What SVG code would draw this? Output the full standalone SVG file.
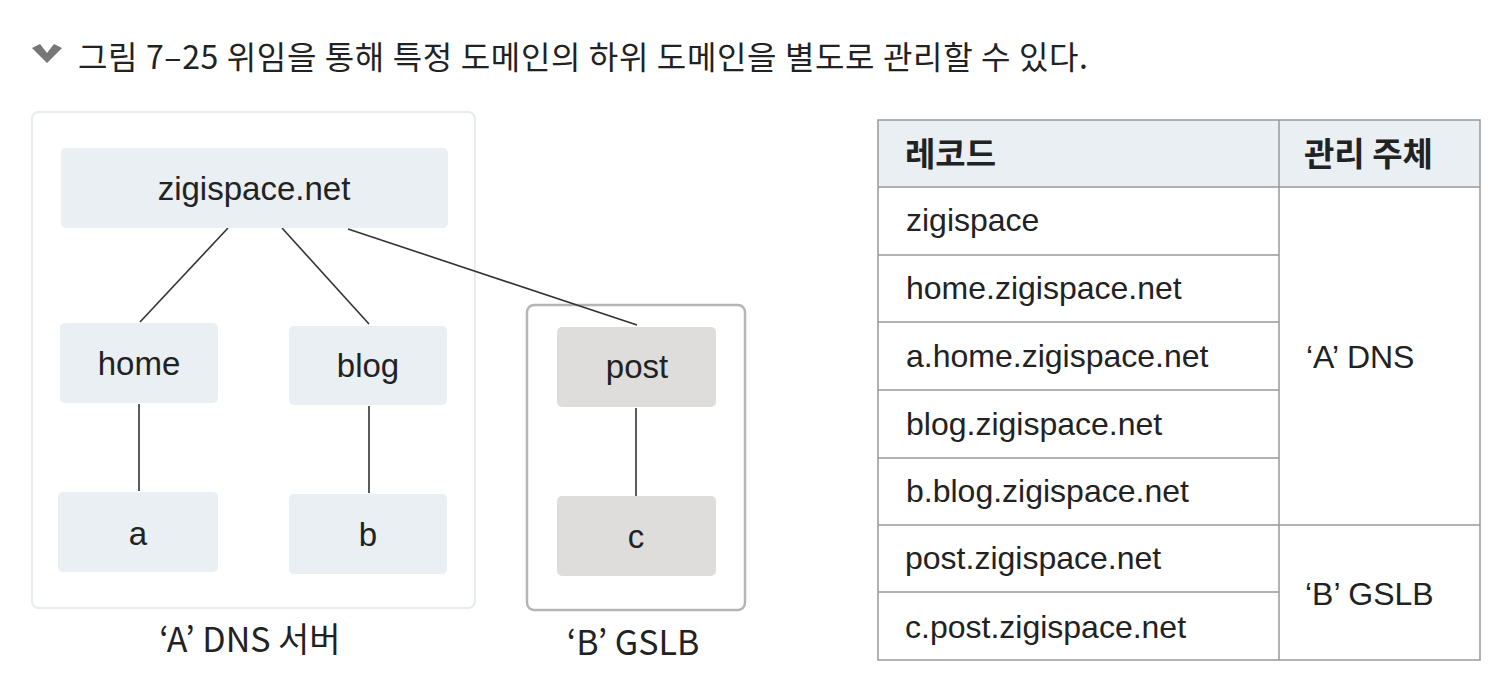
<svg xmlns="http://www.w3.org/2000/svg" width="1506" height="694" viewBox="0 0 1506 694">
<style>
.t{font-family:"Liberation Sans","Noto Sans CJK KR",sans-serif;fill:#222;font-size:32px}
.k{font-family:"Noto Sans CJK KR","Liberation Sans",sans-serif;fill:#222}
.nodeA{fill:#e9eff3}
.nodeB{fill:#dedddb}
.line{stroke:#333;stroke-width:1.6;fill:none}
.grid{stroke:#999;stroke-width:1.5;fill:none}
</style>
<rect width="1506" height="694" fill="#fff"/>
<g id="title">
<path d="M32,48 L40,44 L47,53 L54,44 L62,48 L47,63 Z" fill="#777"/>
<text class="k" x="78" y="69" font-size="32" fill="#333" textLength="1010" lengthAdjust="spacing">그림 7–25  위임을 통해 특정 도메인의 하위 도메인을 별도로 관리할 수 있다.</text>
</g>
<g id="serverA">
<rect x="32" y="112" width="443" height="496" rx="7" fill="#fff" stroke="#e6ecf0" stroke-width="2"/>
<text class="k" x="250" y="652" font-size="34" text-anchor="middle">‘A’ DNS 서버</text>
</g>
<g id="serverB">
<rect x="527" y="305" width="218" height="305" rx="7" fill="#fff" stroke="#b5b5b5" stroke-width="2.5"/>
<text class="k" x="633" y="655" font-size="34" text-anchor="middle">‘B’ GSLB</text>
</g>
<g id="connectors">
<line class="line" x1="228" y1="228" x2="140" y2="322"/>
<line class="line" x1="282" y1="228" x2="369" y2="324"/>
<line class="line" x1="348" y1="229" x2="637" y2="325"/>
<line class="line" x1="139" y1="404" x2="139" y2="491"/>
<line class="line" x1="369" y1="406" x2="369" y2="493"/>
<line class="line" x1="636" y1="408" x2="636" y2="496"/>
</g>
<g id="node-zigispace">
<rect class="nodeA" x="61" y="148" width="387" height="80" rx="5"/>
<text class="t" x="254" y="200" text-anchor="middle" style="font-size:33px">zigispace.net</text>
</g>
<g id="node-home">
<rect class="nodeA" x="60" y="323" width="158" height="80" rx="5"/>
<text class="t" x="139" y="375" text-anchor="middle" style="font-size:33px">home</text>
</g>
<g id="node-blog">
<rect class="nodeA" x="289" y="326" width="158" height="79" rx="5"/>
<text class="t" x="368" y="377" text-anchor="middle" style="font-size:33px">blog</text>
</g>
<g id="node-a">
<rect class="nodeA" x="58" y="492" width="160" height="80" rx="5"/>
<text class="t" x="138" y="545" text-anchor="middle" style="font-size:33px">a</text>
</g>
<g id="node-b">
<rect class="nodeA" x="289" y="494" width="158" height="80" rx="5"/>
<text class="t" x="368" y="546" text-anchor="middle" style="font-size:33px">b</text>
</g>
<g id="node-post">
<rect class="nodeB" x="557" y="327" width="159" height="80" rx="5"/>
<text class="t" x="637" y="378" text-anchor="middle" style="font-size:33px">post</text>
</g>
<g id="node-c">
<rect class="nodeB" x="557" y="496" width="159" height="80" rx="5"/>
<text class="t" x="636" y="548" text-anchor="middle" style="font-size:33px">c</text>
</g>
<g id="table">
<rect x="878" y="120" width="602" height="67" fill="#e9eff3"/>
<rect class="grid" x="878" y="120" width="602" height="540"/>
<line class="grid" x1="1279" y1="120" x2="1279" y2="660"/>
<line class="grid" x1="878" y1="187" x2="1480" y2="187"/>
<line class="grid" x1="878" y1="255" x2="1279" y2="255"/>
<line class="grid" x1="878" y1="322" x2="1279" y2="322"/>
<line class="grid" x1="878" y1="390" x2="1279" y2="390"/>
<line class="grid" x1="878" y1="458" x2="1279" y2="458"/>
<line class="grid" x1="878" y1="525" x2="1480" y2="525"/>
<line class="grid" x1="878" y1="592" x2="1279" y2="592"/>
<text class="k" x="905" y="166" font-size="33" font-weight="bold">레코드</text>
<text class="k" x="1304" y="166" font-size="33" font-weight="bold">관리 주체</text>
<text class="t" x="906" y="231">zigispace</text>
<text class="t" x="906" y="299">home.zigispace.net</text>
<text class="t" x="906" y="367">a.home.zigispace.net</text>
<text class="t" x="906" y="435">blog.zigispace.net</text>
<text class="t" x="906" y="502">b.blog.zigispace.net</text>
<text class="t" x="905" y="569">post.zigispace.net</text>
<text class="t" x="905" y="638">c.post.zigispace.net</text>
<text class="t" x="1306" y="368">‘A’ DNS</text>
<text class="t" x="1305" y="605">‘B’ GSLB</text>
</g>
</svg>
